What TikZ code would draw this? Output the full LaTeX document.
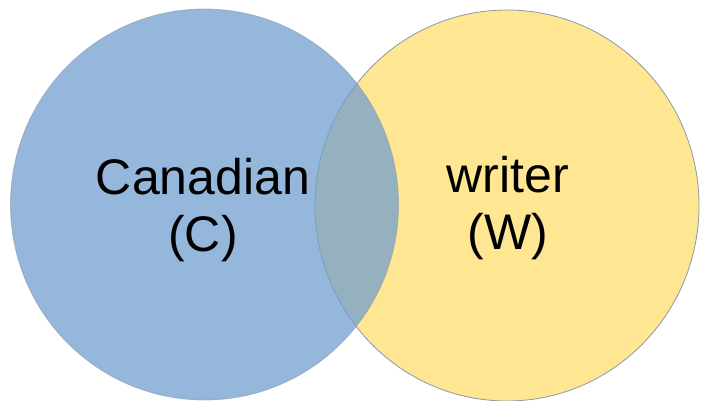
\documentclass[tikz,border=0pt]{standalone}
\usepackage{fontspec}
\setmainfont{Liberation Sans}
\definecolor{canblue}{HTML}{729FCF}
\definecolor{wryellow}{HTML}{FFE693}
\definecolor{rimgray}{HTML}{8C9AA8}
\begin{document}
\begin{tikzpicture}[x=1pt,y=-1pt,
  setcircle/.style={draw=rimgray, line width=0.8pt},
  setlabel/.style={align=center, inner sep=0pt, font=\fontsize{50}{57}\selectfont}]
\useasboundingbox (0,0) rectangle (702,401);
\fill[white] (0,0) rectangle (702,401);
\draw[setcircle, fill=wryellow] (507,205.5) ellipse [x radius=192, y radius=195.5];
\draw[setcircle, fill=canblue, fill opacity=0.75, draw opacity=0.6] (204.5,204.5) ellipse [x radius=194, y radius=195.5];
\node[setlabel] (canadian) at (203,210) {Canadian\\(C)};
\node[setlabel] (writer) at (508,208) {writer\\(W)};
\end{tikzpicture}
\end{document}
